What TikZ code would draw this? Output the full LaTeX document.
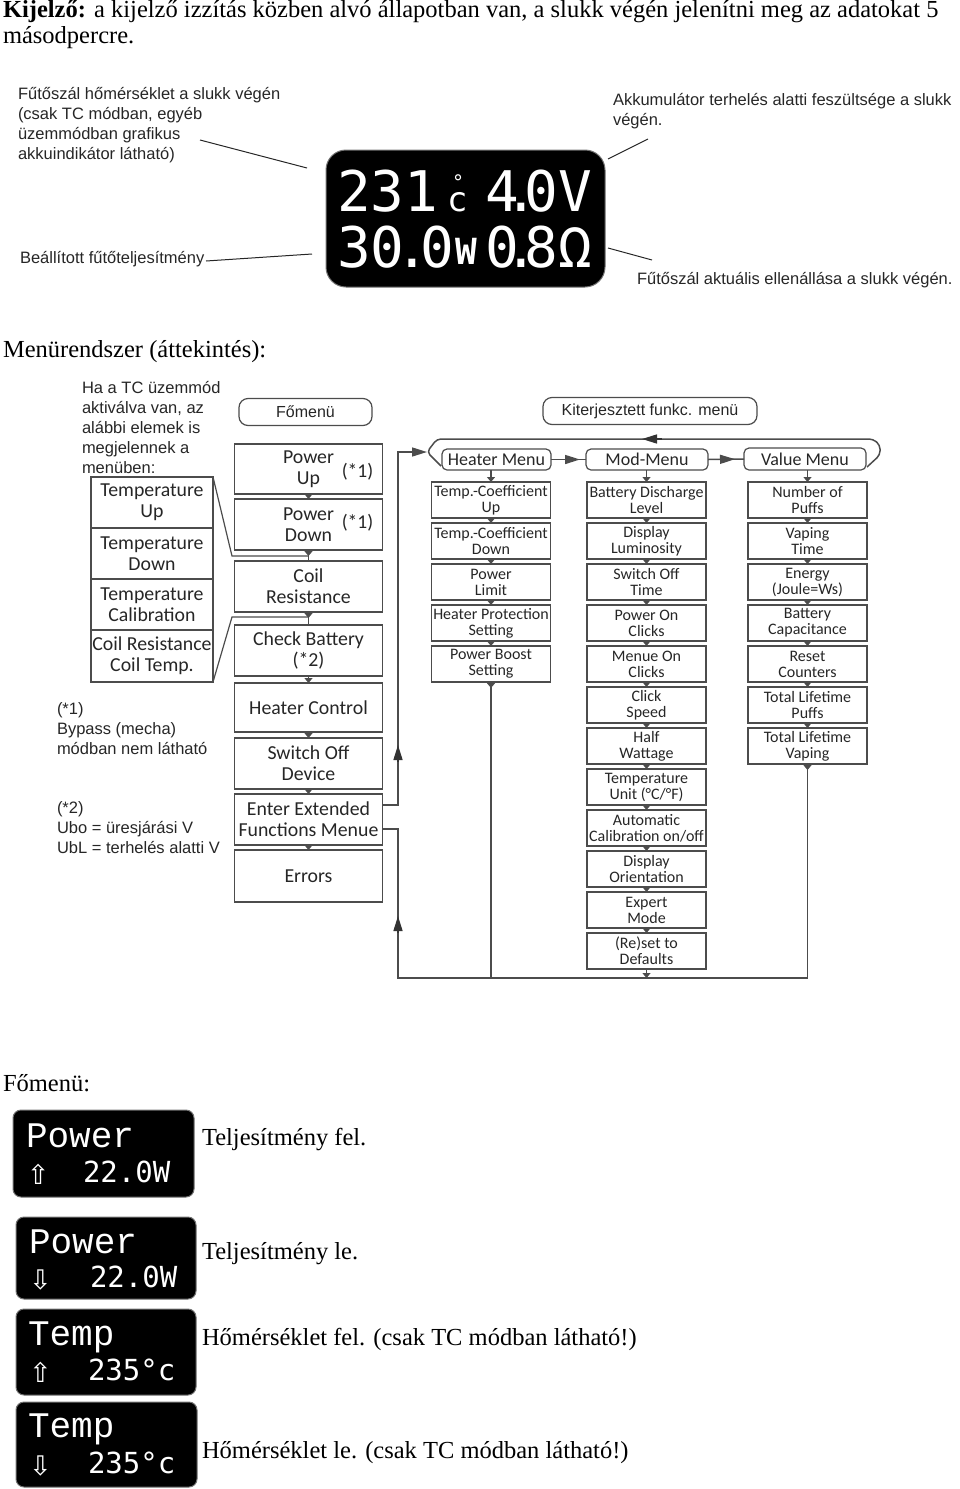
\documentclass[tikz,border=0pt]{standalone}
\usepackage{fontspec}
\setmainfont{Liberation Serif}
\newfontfamily\annf{Liberation Sans}
\newfontfamily\boxf{Carlito}
\newfontfamily\lcdf{DejaVu Sans Mono}
\newfontfamily\lcds{Liberation Mono}
\newfontfamily\symf{DejaVu Sans}
\usetikzlibrary{arrows.meta,calc,decorations.markings}
\begin{document}
\begin{tikzpicture}[x=1pt,y=-1pt,
  every node/.style={inner sep=0pt,outer sep=0pt},
  ttl/.style={anchor=west,font=\fontsize{24.5}{27}\selectfont},
  ann/.style={anchor=west,align=left,font=\annf\fontsize{16.5}{20}\selectfont,text=black!85},
  mbox/.style={draw=black!70,line width=1.2pt,minimum width=148pt,minimum height=51pt,align=center,font=\boxf\fontsize{19.8}{21}\selectfont,text=black!85},
  tbox/.style={draw=black!70,line width=1.2pt,minimum width=122pt,minimum height=51pt,align=center,font=\boxf\fontsize{19.8}{21}\selectfont,text=black!85},
  cbox/.style={draw=black!70,line width=1.2pt,minimum width=119pt,minimum height=36pt,align=center,font=\boxf\fontsize{16}{16}\selectfont,text=black!85},
  hdr/.style={draw=black!70,line width=1.2pt,rounded corners=5pt,minimum height=21pt,align=center,font=\boxf\fontsize{18}{18}\selectfont,text=black!85},
  rbox/.style={draw=black!70,line width=1.2pt,rounded corners=9pt,minimum height=27pt,align=center,font=\annf\fontsize{16}{16}\selectfont,text=black!85},
  conn/.style={draw=black!70,line width=1.5pt},
  aline/.style={draw=black!85,line width=1pt},
  sarr/.style={draw=black!70,line width=1.2pt,-{Triangle[length=5pt,width=8pt]}},
  tri/.style={postaction={decorate},decoration={markings,mark=at position #1 with {\arrow{Triangle[length=5pt,width=8pt]}}}},
  barr/.style={draw=black!80,line width=1.5pt,-{Triangle[length=15pt,width=9pt]}},
  lcdbox/.style={draw=black!55,fill=black,line width=1pt,rounded corners=8pt},
  lcdt/.style={anchor=base west,text=white,font=\lcds\fontsize{36}{36}\selectfont},
  lcdb/.style={anchor=base west,text=white,font=\lcdf\fontsize{29}{29}\selectfont},
  lcda/.style={anchor=base west,text=white,font=\symf\fontsize{27}{27}\selectfont},
  big/.style={anchor=base west,text=white,font=\lcdf\fontsize{56}{56}\selectfont}
]
\useasboundingbox (0,0) rectangle (960,1489);

% ---------- title ----------
\node[ttl] (t1) at (3,12) {\textbf{Kijelző:} a kijelző izzítás közben alvó állapotban van, a slukk végén jelenítni meg az adatokat 5};
\node[ttl] (t2) at (3,38) {másodpercre.};

% ---------- top display ----------
\node[draw=black!55,fill=black,line width=1pt,rounded corners=20pt,minimum width=279pt,minimum height=137pt] (disp) at (465.5,218.5) {};
\node[big] (v1) at (337,211) {231};
\node[anchor=base west,text=white,font=\lcdf\fontsize{34}{34}\selectfont] (v2) at (447,211) {\rlap{\raisebox{22pt}{\fontsize{20}{20}\selectfont\kern5pt °}}c};
\node[big] (v4) at (485,211) {4\kern-14pt.\kern-14pt0V};
\node[big] (v5) at (337,267) {30\kern-9pt.\kern-9pt0};
\node[anchor=base west,text=white,font=\lcdf\bfseries\fontsize{36}{36}\selectfont] (v6) at (455,264) {W};
\node[big] (v7) at (485,267) {0\kern-14pt.\kern-14pt8Ω};

\node[ann] (a1) at (18,125) {Fűtőszál hőmérséklet a slukk végén\\(csak TC módban, egyéb\\üzemmódban grafikus\\akkuindikátor látható)};
\node[ann] (a2) at (20,259) {Beállított fűtőteljesítmény};
\node[ann] (a3) at (613,111) {Akkumulátor terhelés alatti feszültsége a slukk\\végén.};
\node[ann] (a4) at (637,280) {Fűtőszál aktuális ellenállása a slukk végén.};
\coordinate (l1a) at (200,140); \coordinate (l1b) at (307,168);
\coordinate (l2a) at (206,261); \coordinate (l2b) at (312,254);
\coordinate (l3a) at (608,159); \coordinate (l3b) at (648,139);
\coordinate (l4a) at (608,248); \coordinate (l4b) at (652,260);
\draw[aline] (l1a) -- (l1b);
\draw[aline] (l2a) -- (l2b);
\draw[aline] (l3a) -- (l3b);
\draw[aline] (l4a) -- (l4b);

% ---------- menu overview ----------
\node[ttl] (mh) at (3,352) {Menürendszer (áttekintés):};
\node[ann] (n1) at (82,427) {Ha a TC üzemmód\\aktiválva van, az\\alábbi elemek is\\megjelennek a\\menüben:};
\node[ann] (n2) at (57,729) {(*1)\\Bypass (mecha)\\módban nem látható};
\node[ann] (n3) at (57,828) {(*2)\\Ubo = üresjárási V\\UbL = terhelés alatti V};

\node[rbox,minimum width=133pt] (fo) at (305.5,412) {Főmenü};
\node[rbox,minimum width=214pt] (kf) at (650,411) {Kiterjesztett funkc. menü};

% main menu
\node[mbox,minimum height=50pt] (pu) at (308.5,469) {Power\\Up};
\node[mbox] (pd) at (308.5,524.5) {Power\\Down};
\node[mbox] (cr) at (308.5,586.5) {Coil\\Resistance};
\node[mbox] (cb) at (308.5,650.5) {Check Battery\\(*2)};
\node[mbox,minimum height=49pt] (hc) at (308.5,707.5) {Heater Control};
\node[mbox] (so) at (308.5,763.5) {Switch Off\\Device};
\node[mbox] (ee) at (308.5,819.5) {Enter Extended\\Functions Menue};
\node[mbox,minimum height=52pt] (er) at (308.5,876) {Errors};
\node[font=\boxf\fontsize{19.5}{21}\selectfont,text=black!85] (s1) at ($(pu.east)+(-25,3)$) {(*1)};
\node[font=\boxf\fontsize{19.5}{21}\selectfont,text=black!85] (s2) at ($(pd.east)+(-25,-1.5)$) {(*1)};
\draw[sarr] (pu.south) -- (pd.north);
\draw[conn,tri=6pt] (pd.south) -- (cr.north);
\draw[conn,tri=6pt] (cr.south) -- (cb.north);
\draw[sarr] (cb.south) -- (hc.north);
\draw[sarr] (hc.south) -- (so.north);
\draw[sarr] (so.south) -- (ee.north);
\draw[sarr] (ee.south) -- (er.north);

% TC boxes
\node[tbox] (tu) at (152,502.5) {Temperature\\Up};
\node[tbox] (td) at (152,553.5) {Temperature\\Down};
\node[tbox] (tc) at (152,604.5) {Temperature\\Calibration};
\node[tbox,minimum height=52pt] (tr) at (152,656) {Coil Resistance\\Coil Temp.};
\coordinate (k1) at (232,556); \coordinate (j1) at (308.5,556);
\coordinate (k2) at (232,617); \coordinate (j2) at (308.5,617);
\draw[conn,line width=1.2pt] (tu.north east) -- (k1) -- (j1);
\draw[conn,line width=1.2pt] (tr.south east) -- (k2) -- (j2);

% headers
\node[hdr,minimum width=109pt] (hm) at (496.5,459.5) {Heater Menu};
\node[hdr,minimum width=122pt] (mm) at (647,459.5) {Mod-Menu};
\node[hdr,minimum width=122pt,minimum height=22pt] (vm) at (805,459) {Value Menu};
\draw[conn,postaction={decorate},decoration={markings,mark=at position 29pt with {\arrow{Triangle[length=15pt,width=9pt]}}}] (hm.east) -- (mm.west);
\draw[conn,postaction={decorate},decoration={markings,mark=at position 27pt with {\arrow{Triangle[length=15pt,width=9pt]}}}] (mm.east) -- (vm.west);

% heater column
\foreach \t [count=\i from 0] in {{Temp.-Coefficient\\Up},{Temp.-Coefficient\\Down},{Power\\Limit},{Heater Protection\\Setting},{Power Boost\\Setting}}
  \node[cbox] (h\i) at (491,500+41*\i) {\t};
% mod column
\foreach \t [count=\i from 0] in {{Battery Discharge\\Level},{Display\\Luminosity},{Switch Off\\Time},{Power On\\Clicks},{Menue On\\Clicks},{Click\\Speed},{Half\\Wattage},{Temperature\\Unit (°C/°F)},{Automatic\\Calibration on/off},{Display\\Orientation},{Expert\\Mode},{(Re)set to\\Defaults}}
  \node[cbox] (m\i) at (646.5,500+41*\i) {\t};
% value column
\foreach \t [count=\i from 0] in {{Number of\\Puffs},{Vaping\\Time},{Energy\\(Joule=Ws)},{Battery\\Capacitance},{Reset\\Counters},{Total Lifetime\\Puffs},{Total Lifetime\\Vaping}}
  \node[cbox] (w\i) at (807.5,500+41*\i) {\t};

\draw[sarr] (h0.north |- hm.south) -- (h0.north);
\draw[sarr] (m0.north |- mm.south) -- (m0.north);
\draw[sarr] (w0.north |- vm.south) -- (w0.north);
\foreach \i [evaluate=\i as \j using int(\i+1)] in {0,...,3} \draw[sarr] (h\i.south) -- (h\j.north);
\foreach \i [evaluate=\i as \j using int(\i+1)] in {0,...,10} \draw[sarr] (m\i.south) -- (m\j.north);
\foreach \i [evaluate=\i as \j using int(\i+1)] in {0,...,5} \draw[sarr] (w\i.south) -- (w\j.north);

% return lines
\coordinate (bH) at (491,978);
\coordinate (bM) at (646.5,978);
\coordinate (bR) at (807.5,978);
\coordinate (bL) at (398,978);
\coordinate (bU) at (398,829);
\coordinate (aU) at (398,805);
\coordinate (aT) at (398,452);
\coordinate (br1) at (867,467);
\coordinate (br2) at (880,455);
\coordinate (br3) at (880,445);
\coordinate (br4) at (873,439);
\coordinate (br5) at (437,439);
\coordinate (br6) at (427,452);
\coordinate (br7) at (441,466);
\coordinate (ta1) at (662,439);
\coordinate (ta2) at (642,439);
\coordinate (u1a) at (398,762);
\coordinate (u1b) at (398,745);
\coordinate (u2a) at (398,933);
\coordinate (u2b) at (398,916);

\draw[conn,tri=6pt] (h4.south) -- (bH);
\draw[sarr] (m11.south) -- (bM);
\draw[conn,tri=6pt] (w6.south) -- (bR) -- (bL) -- (bU) -- ($(ee.east)+(0,9.5)$);
\draw[conn,-{Triangle[length=15pt,width=9pt]}] ($(ee.east)+(0,-14.5)$) -- (aU) -- (aT) -- (br6);
\draw[conn,rounded corners=4pt] (br1) -- (br2) -- (br3) -- (br4) -- (br5) -- (br6) -- (br7);
\draw[barr] (ta1) -- (ta2);
\draw[barr] (u1a) -- (u1b);
\draw[barr] (u2a) -- (u2b);

% ---------- main menu displays ----------
\node[ttl] (fh) at (3,1083) {Főmenü:};

\node[lcdbox,minimum width=181pt,minimum height=87pt] (d1) at (103.5,1153.5) {};
\node[lcdt] (d1a) at (26,1147) {Power};
\node[lcda] (d1b) at (27,1184) {⇧};
\node[lcdb] (d1c) at (83,1182) {22.0W};

\node[lcdbox,minimum width=180pt,minimum height=82pt] (d2) at (106,1258) {};
\node[lcdt] (d2a) at (29,1253) {Power};
\node[lcda] (d2b) at (29,1289) {⇩};
\node[lcdb] (d2c) at (90,1287) {22.0W};

\node[lcdbox,minimum width=180pt,minimum height=86pt] (d3) at (106,1352) {};
\node[lcdt] (d3a) at (28,1345) {Temp};
\node[lcda] (d3b) at (29,1382) {⇧};
\node[lcdb] (d3c) at (88,1380) {235°c};

\node[lcdbox,minimum width=181pt,minimum height=85pt] (d4) at (106.5,1444.5) {};
\node[lcdt] (d4a) at (28,1437) {Temp};
\node[lcda] (d4b) at (29,1475) {⇩};
\node[lcdb] (d4c) at (88,1473) {235°c};

\node[ttl] (e1) at (202,1140) {Teljesítmény fel.};
\node[ttl] (e2) at (202,1254) {Teljesítmény le.};
\node[ttl] (e3) at (202,1339) {Hőmérséklet fel. (csak TC módban látható!)};
\node[ttl] (e4) at (202,1453) {Hőmérséklet le. (csak TC módban látható!)};
\end{tikzpicture}
\end{document}
